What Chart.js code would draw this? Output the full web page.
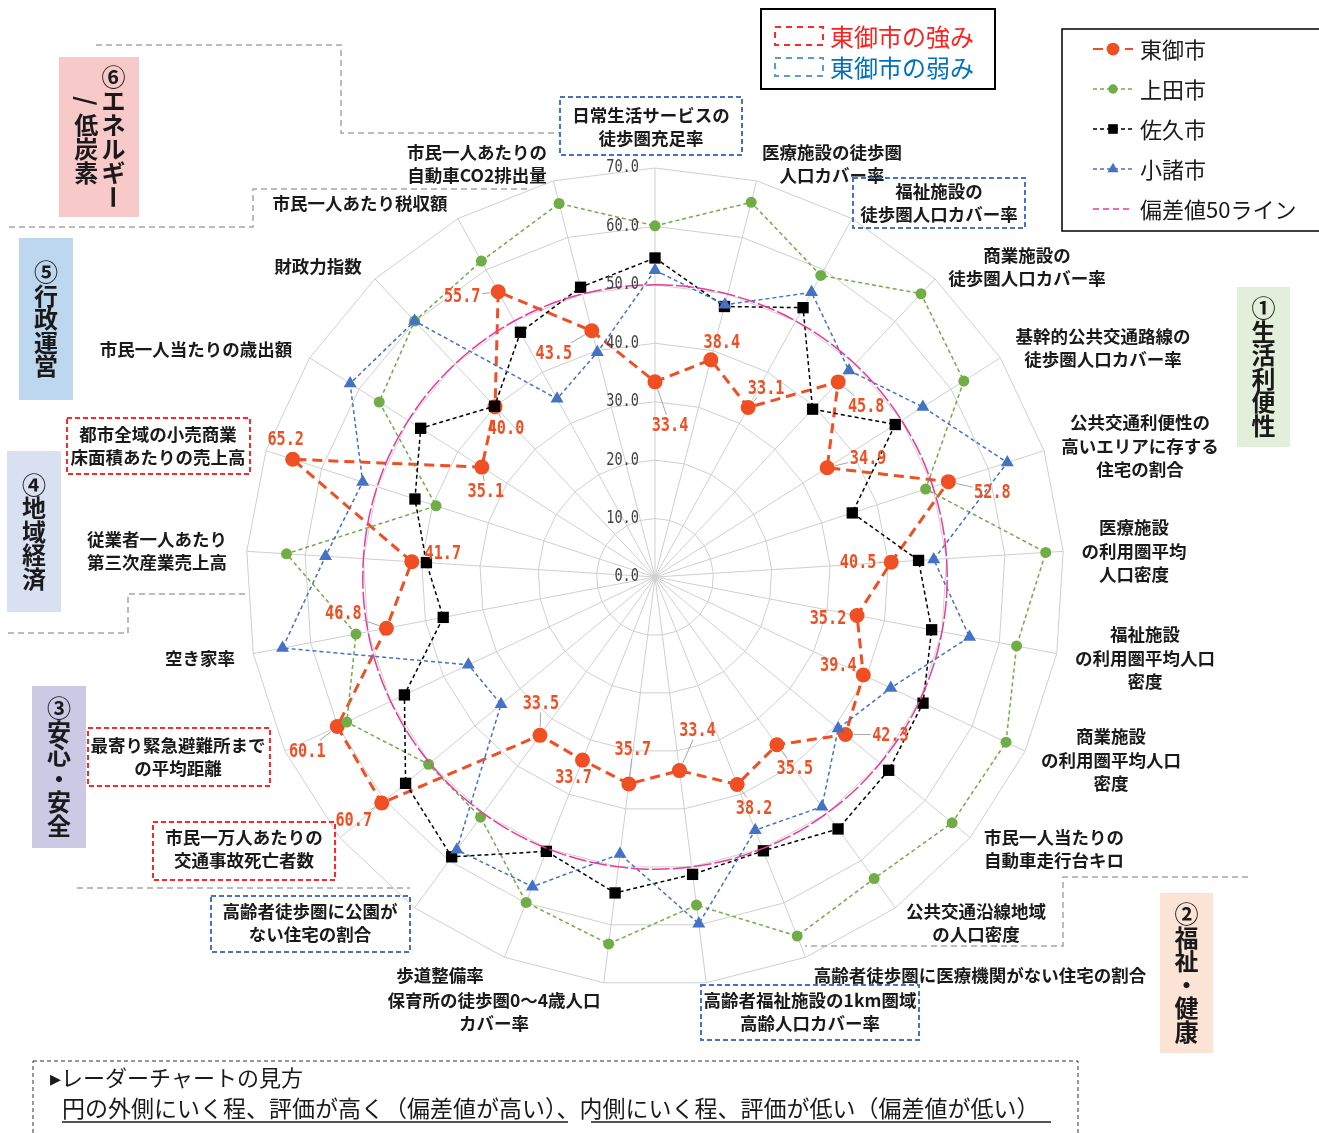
<!DOCTYPE html>
<html lang="ja">
<head>
<meta charset="utf-8">
<script src="https://cdn.jsdelivr.net/npm/chart.js@4/dist/chart.umd.min.js"></script>
<style>
html, body { margin: 0; padding: 0; background: #fff; }
#wrap { position: relative; width: 1319px; height: 1133px; }
</style>
</head>
<body>
<div id="wrap"><canvas id="radar" width="1319" height="1133"></canvas></div>
<script>
// indicators, clockwise from the top
const categories = [
  ['日常生活サービスの', '徒歩圏充足率'],
  ['医療施設の徒歩圏', '人口カバー率'],
  ['福祉施設の', '徒歩圏人口カバー率'],
  ['商業施設の', '徒歩圏人口カバー率'],
  ['基幹的公共交通路線の', '徒歩圏人口カバー率'],
  ['公共交通利便性の', '高いエリアに存する', '住宅の割合'],
  ['医療施設', 'の利用圏平均', '人口密度'],
  ['福祉施設', 'の利用圏平均人口', '密度'],
  ['商業施設', 'の利用圏平均人口', '密度'],
  ['市民一人当たりの', '自動車走行台キロ'],
  ['公共交通沿線地域', 'の人口密度'],
  ['高齢者徒歩圏に医療機関がない住宅の割合'],
  ['高齢者福祉施設の1km圏域', '高齢人口カバー率'],
  ['保育所の徒歩圏0～4歳人口', 'カバー率'],
  ['歩道整備率'],
  ['高齢者徒歩圏に公園が', 'ない住宅の割合'],
  ['市民一万人あたりの', '交通事故死亡者数'],
  ['最寄り緊急避難所まで', 'の平均距離'],
  ['空き家率'],
  ['従業者一人あたり', '第三次産業売上高'],
  ['都市全域の小売商業', '床面積あたりの売上高'],
  ['市民一人当たりの歳出額'],
  ['財政力指数'],
  ['市民一人あたり税収額'],
  ['市民一人あたりの', '自動車CO2排出量']
];

const tomi   = [33.4, 38.4, 33.1, 45.8, 34.9, 52.8, 40.5, 35.2, 39.4, 42.3, 35.5, 38.2, 33.4, 35.7, 33.7, 33.5, 60.7, 60.1, 46.8, 41.7, 65.2, 35.1, 40.0, 55.7, 43.5];
const ueda   = [60.1, 66.2, 58.9, 66.5, 62.6, 48.7, 67.0, 63.0, 66.4, 66.0, 63.8, 66.1, 56.6, 63.3, 59.9, 50.8, 50.3, 58.3, 52.1, 63.2, 39.4, 55.9, 60.1, 61.7, 66.0];
const saku   = [54.6, 47.8, 52.6, 39.4, 48.7, 35.5, 45.2, 48.2, 50.7, 51.9, 53.3, 50.4, 51.3, 54.5, 50.5, 59.2, 55.4, 47.4, 36.9, 39.2, 43.2, 47.5, 40.1, 47.8, 51.2];
const komoro = [52.5, 48.1, 55.6, 48.5, 54.3, 63.4, 47.8, 54.8, 44.6, 40.7, 48.6, 46.6, 59.8, 47.8, 57.0, 57.7, 34.2, 35.3, 64.9, 56.5, 52.6, 61.8, 60.1, 34.8, 39.7];
const line50 = [50, 50, 50, 50, 50, 50, 50, 50, 50, 50, 50, 50, 50, 50, 50, 50, 50, 50, 50, 50, 50, 50, 50, 50, 50];
const tickValues = [0, 10, 20, 30, 40, 50, 60, 70];

const strengths = [16, 17, 20];
const weaknesses = [0, 2, 12, 15];

// layout (text placement only)
const labelPos = [
  [651, 127], [832, 164], [939, 203], [1027, 267], [1103, 348], [1140, 446],
  [1134, 551], [1145, 658], [1111, 760], [1054, 849], [976, 923], [980, 975],
  [810, 1012], [494, 1012], [440, 975], [310, 923], [244, 849], [178, 757],
  [200, 658], [157, 551], [158, 446], [196, 349], [318, 266], [360, 203], [477, 164]
];
const boxRects = {
  0: [560, 97, 182, 58], 2: [853, 178, 172, 50], 12: [701, 985, 218, 55],
  15: [211, 896, 199, 56], 16: [153, 822, 182, 58], 17: [88, 728, 182, 58], 20: [67, 418, 183, 56]
};
const valueOffsets = [
  [15, 43], [11, -18], [18, -20], [28, 24], [41, -10], [44, 10], [-33, 0], [-29, 2],
  [-25, -10], [45, 0], [18, 23], [17, 23], [18, -41], [4, -35], [-9, 17], [1, -33],
  [-28, 17], [-30, 24], [-43, -15], [31, -9], [-7, -20], [4, 24], [11, 21], [-36, 4], [-38, 22]
];
const groups = [
  { cols: ['①生活利便性'], x: 1237, y: 287, w: 53, h: 160, bg: '#E2EFDA' },
  { cols: ['②福祉・健康'], x: 1160, y: 893, w: 53, h: 160, bg: '#FBE3D6' },
  { cols: ['③安心・安全'], x: 32, y: 686, w: 54, h: 162, bg: '#CCC9E5' },
  { cols: ['④地域経済'], x: 7, y: 451, w: 54, h: 161, bg: '#D8E0F2' },
  { cols: ['⑤行政運営'], x: 19, y: 238, w: 54, h: 162, bg: '#BDD7EE' },
  { cols: ['⑥エネルギー', '/低炭素'], x: 59, y: 57, w: 80, h: 160, bg: '#F8C9C9' }
];
const sepLines = [
  [[96, 45], [341, 45], [341, 133], [560, 133]],
  [[527, 189], [253, 189], [253, 227], [8, 227]],
  [[245, 594], [128, 594], [128, 633], [8, 633]],
  [[77, 888], [410, 888]],
  [[1248, 877], [1063, 877], [1063, 946], [805, 946]]
];

const JP = '"Noto Sans CJK JP", "Noto Sans", sans-serif';

function vText(ctx, str, x, yc, step) {
  const chars = Array.from(str);
  let y = yc - (chars.length - 1) * step / 2;
  chars.forEach(ch => {
    ctx.save();
    ctx.translate(x, y);
    if ('ー/～'.includes(ch)) ctx.rotate(Math.PI / 2);
    ctx.fillText(ch, 0, 0);
    ctx.restore();
    y += step;
  });
}

function dashedPath(ctx, pts) {
  ctx.beginPath();
  ctx.moveTo(pts[0][0], pts[0][1]);
  for (let i = 1; i < pts.length; i++) ctx.lineTo(pts[i][0], pts[i][1]);
  ctx.stroke();
}

function narrowText(ctx, txt, x, y, sx, align) {
  ctx.save();
  ctx.translate(x, y);
  ctx.scale(sx, 1);
  ctx.textAlign = align;
  ctx.fillText(txt, 0, 0);
  ctx.restore();
}

const annot = {
  id: 'annot',
  afterDraw(chart) {
    const ctx = chart.ctx;
    const r = chart.scales.r;
    ctx.save();

    // tick labels on the left of the top spoke
    ctx.font = '17px "DejaVu Sans Mono", monospace';
    ctx.fillStyle = '#404040';
    ctx.textBaseline = 'middle';
    tickValues.forEach(v => {
      const d = r.getDistanceFromCenterForValue(v);
      narrowText(ctx, v.toFixed(1), r.xCenter - 16, r.yCenter - d, 0.8, 'right');
    });

    // separators
    ctx.strokeStyle = '#A6A6A6';
    ctx.lineWidth = 1.5;
    ctx.setLineDash([6, 4]);
    sepLines.forEach(p => dashedPath(ctx, p));

    // indicator labels
    ctx.setLineDash([]);
    ctx.font = 'bold 17.5px ' + JP;
    ctx.fillStyle = '#1a1a1a';
    ctx.textAlign = 'center';
    categories.forEach((lines, i) => {
      const [cx, cy] = labelPos[i];
      const y0 = cy - (lines.length - 1) * 23.5 / 2;
      lines.forEach((t, k) => ctx.fillText(t, cx, y0 + k * 23.5));
    });

    // strength / weakness frames
    ctx.lineWidth = 2;
    ctx.setLineDash([5, 3]);
    Object.keys(boxRects).forEach(k => {
      const idx = +k;
      const b = boxRects[k];
      ctx.strokeStyle = strengths.includes(idx) ? '#FF2727' : '#4472C4';
      ctx.strokeRect(b[0], b[1], b[2], b[3]);
    });

    // value labels for 東御市 with leader lines
    const meta = chart.getDatasetMeta(0);
    meta.data.forEach((pt, i) => {
      const [ox, oy] = valueOffsets[i];
      const cx = pt.x + ox, cy = pt.y + oy;
      const dist = Math.hypot(ox, oy);
      if (dist > 22) {
        const hw = 20, hh = 10;
        const t = Math.min(hw / Math.max(Math.abs(ox), 0.01), hh / Math.max(Math.abs(oy), 0.01));
        const sx = cx - ox * t, sy = cy - oy * t;
        const ex = pt.x + ox / dist * 8, ey = pt.y + oy / dist * 8;
        if (Math.hypot(sx - ex, sy - ey) > 4) {
          ctx.setLineDash([]);
          ctx.strokeStyle = '#A6A6A6';
          ctx.lineWidth = 1;
          ctx.beginPath();
          ctx.moveTo(sx, sy);
          ctx.lineTo(ex, ey);
          ctx.stroke();
        }
      }
      ctx.font = 'bold 20px "DejaVu Sans Mono", monospace';
      ctx.fillStyle = '#F04E23';
      ctx.textBaseline = 'middle';
      narrowText(ctx, tomi[i].toFixed(1), cx, cy + 1, 0.76, 'center');
    });

    // group tags
    ctx.setLineDash([]);
    groups.forEach(g => {
      ctx.fillStyle = g.bg;
      ctx.fillRect(g.x, g.y, g.w, g.h);
      ctx.fillStyle = '#1a1a1a';
      ctx.font = 'bold 24px ' + JP;
      ctx.textAlign = 'center';
      ctx.textBaseline = 'middle';
      const yc = g.y + g.h / 2;
      if (g.cols.length === 1) {
        vText(ctx, g.cols[0], g.x + g.w / 2, yc, 23.5);
      } else {
        vText(ctx, g.cols[0], g.x + g.w * 0.68, yc, 24);
        vText(ctx, g.cols[1], g.x + g.w * 0.34, yc, 24);
      }
    });

    // series legend
    ctx.strokeStyle = '#000';
    ctx.lineWidth = 1.5;
    ctx.strokeRect(1062, 29, 280, 202);
    chart.data.datasets.forEach((ds, i) => {
      const y = 49 + i * 40;
      ctx.strokeStyle = ds.borderColor;
      ctx.lineWidth = Math.min(ds.borderWidth, 2);
      ctx.setLineDash(ds.legendDash || ds.borderDash);
      ctx.beginPath();
      ctx.moveTo(1093, y);
      ctx.lineTo(1133, y);
      ctx.stroke();
      ctx.setLineDash([]);
      if (ds.pointRadius > 0) {
        ctx.fillStyle = ds.borderColor;
        ctx.strokeStyle = ds.borderColor;
        Chart.helpers.drawPoint(ctx, { pointStyle: ds.pointStyle || 'circle', radius: ds.pointRadius * 0.85, rotation: 0, borderWidth: 0 }, 1113, y);
      }
      ctx.fillStyle = '#1a1a1a';
      ctx.font = '22px ' + JP;
      ctx.textAlign = 'left';
      ctx.textBaseline = 'middle';
      ctx.fillText(ds.label, 1140, y + 1);
    });

    // strength / weakness key
    ctx.strokeStyle = '#000';
    ctx.lineWidth = 2;
    ctx.strokeRect(761, 9, 234, 80);
    ctx.setLineDash([6, 5]);
    ctx.strokeStyle = '#FF2727';
    ctx.strokeRect(775, 27, 48, 18);
    ctx.strokeStyle = '#5B9BD5';
    ctx.strokeRect(775, 58, 48, 18);
    ctx.setLineDash([]);
    ctx.font = '24px ' + JP;
    ctx.textAlign = 'left';
    ctx.fillStyle = '#FF2020';
    ctx.fillText('東御市の強み', 830, 37);
    ctx.fillStyle = '#0070C0';
    ctx.fillText('東御市の弱み', 830, 68);

    // how-to-read note
    ctx.strokeStyle = '#333';
    ctx.lineWidth = 1;
    ctx.setLineDash([4, 3]);
    ctx.strokeRect(33, 1061, 1045, 90);
    ctx.setLineDash([]);
    ctx.fillStyle = '#1a1a1a';
    ctx.font = '22px ' + JP;
    ctx.fillText('▸レーダーチャートの見方', 50, 1078);
    const partA = '円の外側にいく程、評価が高く（偏差値が高い）';
    const partB = '内側にいく程、評価が低い（偏差値が低い）';
    ctx.font = '23px ' + JP;
    const wA = ctx.measureText(partA).width;
    const wSep = ctx.measureText('、').width;
    const wB = ctx.measureText(partB).width;
    ctx.fillText(partA + '、' + partB, 62, 1108);
    ctx.strokeStyle = '#1a1a1a';
    ctx.lineWidth = 1.5;
    ctx.beginPath();
    ctx.moveTo(62, 1122); ctx.lineTo(62 + wA, 1122);
    ctx.moveTo(62 + wA + wSep, 1122); ctx.lineTo(62 + wA + wSep + wB, 1122);
    ctx.stroke();

    ctx.restore();
  }
};

new Chart(document.getElementById('radar').getContext('2d'), {
  type: 'radar',
  data: {
    labels: categories,
    datasets: [
      {
        label: '東御市', data: tomi, order: 5,
        borderColor: '#F04E23', backgroundColor: '#F04E23', borderWidth: 3, borderDash: [10, 6],
        pointStyle: 'circle', pointRadius: 7.5, pointBackgroundColor: '#F04E23', pointBorderWidth: 0, fill: false
      },
      {
        label: '上田市', data: ueda, order: 4,
        borderColor: '#70AD47', backgroundColor: '#70AD47', borderWidth: 1.5, borderDash: [4, 3],
        pointStyle: 'circle', pointRadius: 5.5, pointBackgroundColor: '#70AD47', pointBorderWidth: 0, fill: false
      },
      {
        label: '佐久市', data: saku, order: 3,
        borderColor: '#000000', backgroundColor: '#000000', borderWidth: 1.5, borderDash: [4, 3],
        pointStyle: 'rect', pointRadius: 8, pointBackgroundColor: '#000000', pointBorderWidth: 0, fill: false
      },
      {
        label: '小諸市', data: komoro, order: 2,
        borderColor: '#4472C4', backgroundColor: '#4472C4', borderWidth: 1.5, borderDash: [4, 3],
        pointStyle: 'triangle', pointRadius: 7.5, pointBackgroundColor: '#4472C4', pointBorderWidth: 0, fill: false
      },
      {
        label: '偏差値50ライン', data: line50, order: 1,
        borderColor: '#EC3A9B', backgroundColor: '#EC3A9B', borderWidth: 1.5, borderDash: [18, 3], legendDash: [6, 4],
        pointRadius: 0, tension: 0.35, fill: false
      }
    ]
  },
  options: {
    responsive: false,
    animation: false,
    layout: { padding: { left: 246, top: 168, right: 255, bottom: 147 } },
    plugins: { legend: { display: false }, tooltip: { enabled: false } },
    scales: {
      r: {
        min: 0,
        max: 70,
        ticks: { stepSize: 10, display: false },
        grid: { color: '#CFCFCF', lineWidth: 1, circular: false },
        angleLines: { color: '#CFCFCF', lineWidth: 1 },
        pointLabels: { display: false }
      }
    }
  },
  plugins: [annot]
});
</script>
</body>
</html>
